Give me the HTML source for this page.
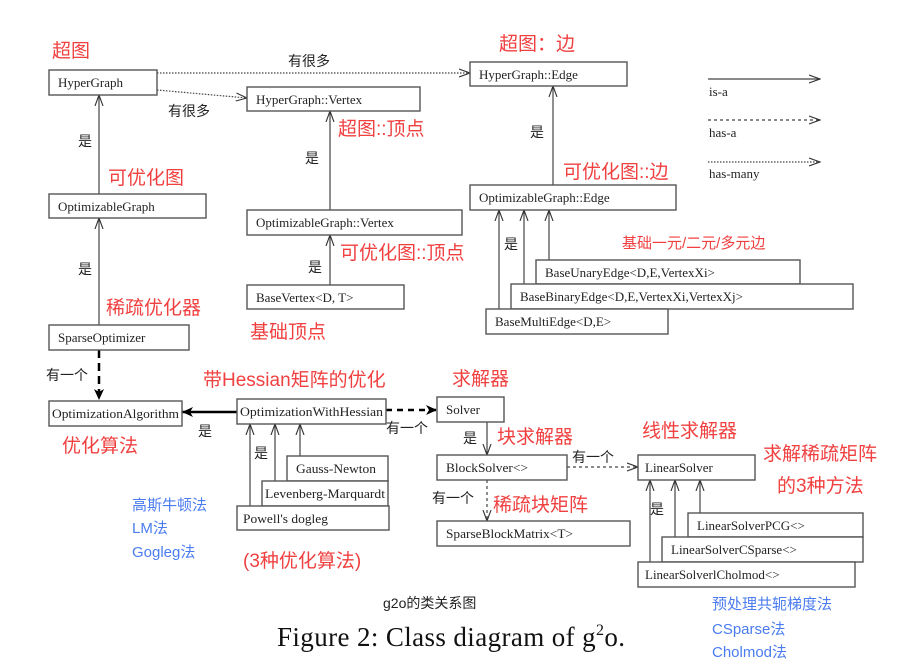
<!DOCTYPE html>
<html><head><meta charset="utf-8"><style>
html,body{margin:0;padding:0;background:#fff;width:904px;height:669px;overflow:hidden}
svg{display:block}
.b{fill:#fff;stroke:#555;stroke-width:1.4}
.t{font-family:"Liberation Serif",serif;font-size:13px;fill:#222}
.r{font-family:"Liberation Sans","Noto Sans CJK SC",sans-serif;font-size:19px;fill:#f04040}
.k{font-family:"Liberation Sans","Noto Sans CJK SC",sans-serif;font-size:14px;fill:#222}
.u{font-family:"Liberation Sans","Noto Sans CJK SC",sans-serif;font-size:15px;fill:#4a7cf0}
.l{stroke:#444;stroke-width:1.2;fill:none}
</style></head><body>
<svg width="904" height="669" viewBox="0 0 904 669" xmlns="http://www.w3.org/2000/svg">
<defs>
<marker id="o" markerWidth="12" markerHeight="10" refX="11" refY="5" orient="auto" markerUnits="userSpaceOnUse"><path d="M0,1 L11,5 L0,9" fill="none" stroke="#333" stroke-width="1.1"/></marker>
<marker id="f" markerWidth="12" markerHeight="10" refX="11" refY="5" orient="auto" markerUnits="userSpaceOnUse"><path d="M0,0 L11,5 L0,10 L3,5 Z" fill="#000"/></marker>
</defs>
<line class="l" x1="157" y1="73" x2="470" y2="73" stroke-dasharray="1.5,1.5" marker-end="url(#o)"/>
<line class="l" x1="157" y1="90" x2="247" y2="98" stroke-dasharray="1.5,1.5" marker-end="url(#o)"/>
<line class="l" x1="99" y1="194" x2="99" y2="95" marker-end="url(#o)"/>
<line class="l" x1="99" y1="325" x2="99" y2="218" marker-end="url(#o)"/>
<line class="l" x1="330" y1="210" x2="330" y2="111" marker-end="url(#o)"/>
<line class="l" x1="330" y1="285" x2="330" y2="235" marker-end="url(#o)"/>
<line class="l" x1="553" y1="185" x2="553" y2="86" marker-end="url(#o)"/>
<line class="l" x1="499" y1="309" x2="499" y2="210" marker-end="url(#o)"/>
<line class="l" x1="524" y1="284" x2="524" y2="210" marker-end="url(#o)"/>
<line class="l" x1="549" y1="260" x2="549" y2="210" marker-end="url(#o)"/>
<line x1="99" y1="350" x2="99" y2="400" stroke="#000" stroke-width="2.5" stroke-dasharray="8,5" marker-end="url(#f)"/>
<line x1="237" y1="412" x2="182" y2="412" stroke="#000" stroke-width="2.5" marker-end="url(#f)"/>
<line x1="386" y1="410" x2="437" y2="410" stroke="#000" stroke-width="2.5" stroke-dasharray="6,5" marker-end="url(#f)"/>
<line class="l" x1="487" y1="422" x2="487" y2="455" marker-end="url(#o)"/>
<line class="l" x1="487" y1="480" x2="487" y2="521" stroke-dasharray="3,3" marker-end="url(#o)"/>
<line class="l" x1="567" y1="467" x2="638" y2="467" stroke-dasharray="3,3" marker-end="url(#o)"/>
<line class="l" x1="250" y1="506" x2="250" y2="424" marker-end="url(#o)"/>
<line class="l" x1="275" y1="481" x2="275" y2="424" marker-end="url(#o)"/>
<line class="l" x1="300" y1="456" x2="300" y2="424" marker-end="url(#o)"/>
<line class="l" x1="650" y1="562" x2="650" y2="480" marker-end="url(#o)"/>
<line class="l" x1="675" y1="537" x2="675" y2="480" marker-end="url(#o)"/>
<line class="l" x1="700" y1="513" x2="700" y2="480" marker-end="url(#o)"/>
<line class="l" x1="708" y1="79" x2="820" y2="79" marker-end="url(#o)"/>
<line class="l" x1="708" y1="120" x2="820" y2="120" stroke-dasharray="3,3" marker-end="url(#o)"/>
<line class="l" x1="708" y1="162" x2="820" y2="162" stroke-dasharray="1.5,1.5" marker-end="url(#o)"/>
<text class="t" x="709" y="96">is-a</text>
<text class="t" x="709" y="137">has-a</text>
<text class="t" x="709" y="178">has-many</text>
<rect class="b" x="49" y="70" width="108" height="25"/><text class="t" x="58" y="87">HyperGraph</text>
<rect class="b" x="247" y="87" width="173" height="24"/><text class="t" x="256" y="104">HyperGraph::Vertex</text>
<rect class="b" x="470" y="62" width="157" height="24"/><text class="t" x="479" y="79">HyperGraph::Edge</text>
<rect class="b" x="49" y="194" width="157" height="24"/><text class="t" x="58" y="211">OptimizableGraph</text>
<rect class="b" x="247" y="210" width="215" height="25"/><text class="t" x="256" y="227">OptimizableGraph::Vertex</text>
<rect class="b" x="470" y="185" width="206" height="25"/><text class="t" x="479" y="202">OptimizableGraph::Edge</text>
<rect class="b" x="247" y="285" width="157" height="24"/><text class="t" x="256" y="302">BaseVertex&lt;D, T&gt;</text>
<rect class="b" x="536" y="260" width="264" height="24"/><text class="t" x="545" y="277">BaseUnaryEdge&lt;D,E,VertexXi&gt;</text>
<rect class="b" x="511" y="284" width="342" height="25"/><text class="t" x="520" y="301">BaseBinaryEdge&lt;D,E,VertexXi,VertexXj&gt;</text>
<rect class="b" x="486" y="309" width="182" height="25"/><text class="t" x="495" y="326">BaseMultiEdge&lt;D,E&gt;</text>
<rect class="b" x="49" y="325" width="140" height="25"/><text class="t" x="58" y="342">SparseOptimizer</text>
<rect class="b" x="49" y="401" width="133" height="25"/><text class="t" x="52" y="418" textLength="127" lengthAdjust="spacingAndGlyphs">OptimizationAlgorithm</text>
<rect class="b" x="237" y="399" width="149" height="25"/><text class="t" x="240" y="416" textLength="143" lengthAdjust="spacingAndGlyphs">OptimizationWithHessian</text>
<rect class="b" x="437" y="397" width="67" height="25"/><text class="t" x="446" y="414">Solver</text>
<rect class="b" x="287" y="456" width="101" height="25"/><text class="t" x="296" y="473" textLength="80" lengthAdjust="spacingAndGlyphs">Gauss-Newton</text>
<rect class="b" x="262" y="481" width="126" height="25"/><text class="t" x="265" y="498" textLength="120" lengthAdjust="spacingAndGlyphs">Levenberg-Marquardt</text>
<rect class="b" x="237" y="506" width="152" height="24"/><text class="t" x="243" y="523" textLength="85" lengthAdjust="spacingAndGlyphs">Powell's dogleg</text>
<rect class="b" x="437" y="455" width="130" height="25"/><text class="t" x="446" y="472" textLength="82" lengthAdjust="spacingAndGlyphs">BlockSolver&lt;&gt;</text>
<rect class="b" x="437" y="521" width="193" height="25"/><text class="t" x="446" y="538" textLength="127" lengthAdjust="spacingAndGlyphs">SparseBlockMatrix&lt;T&gt;</text>
<rect class="b" x="638" y="455" width="117" height="25"/><text class="t" x="645" y="472">LinearSolver</text>
<rect class="b" x="688" y="513" width="175" height="24"/><text class="t" x="697" y="530">LinearSolverPCG&lt;&gt;</text>
<rect class="b" x="662" y="537" width="201" height="25"/><text class="t" x="671" y="554">LinearSolverCSparse&lt;&gt;</text>
<rect class="b" x="638" y="562" width="217" height="25"/><text class="t" x="645" y="579">LinearSolverlCholmod&lt;&gt;</text>
<text class="r" x="52" y="57">超图</text>
<text class="r" x="499" y="50">超图：边</text>
<text class="r" x="108" y="184">可优化图</text>
<text class="r" x="338" y="135">超图::顶点</text>
<text class="r" x="563" y="178">可优化图::边</text>
<text class="r" x="622" y="248" style="font-size:15px">基础一元/二元/多元边</text>
<text class="r" x="340" y="259">可优化图::顶点</text>
<text class="r" x="106" y="314">稀疏优化器</text>
<text class="r" x="250" y="338">基础顶点</text>
<text class="r" x="203" y="386">带Hessian矩阵的优化</text>
<text class="r" x="452" y="385">求解器</text>
<text class="r" x="62" y="452">优化算法</text>
<text class="r" x="497" y="443">块求解器</text>
<text class="r" x="642" y="437">线性求解器</text>
<text class="r" x="763" y="460">求解稀疏矩阵</text>
<text class="r" x="777" y="492">的3种方法</text>
<text class="r" x="493" y="511">稀疏块矩阵</text>
<text class="r" x="243" y="567">(3种优化算法)</text>
<text class="k" x="288" y="66">有很多</text>
<text class="k" x="168" y="116">有很多</text>
<text class="k" x="78" y="146">是</text>
<text class="k" x="78" y="274">是</text>
<text class="k" x="305" y="163">是</text>
<text class="k" x="308" y="272">是</text>
<text class="k" x="530" y="137">是</text>
<text class="k" x="504" y="249">是</text>
<text class="k" x="46" y="380">有一个</text>
<text class="k" x="198" y="436">是</text>
<text class="k" x="254" y="458">是</text>
<text class="k" x="386" y="433">有一个</text>
<text class="k" x="463" y="443">是</text>
<text class="k" x="572" y="462">有一个</text>
<text class="k" x="432" y="503">有一个</text>
<text class="k" x="650" y="514">是</text>
<text class="k" x="383" y="608">g2o的类关系图</text>
<text class="u" x="132" y="510">高斯牛顿法</text>
<text class="u" x="132" y="533">LM法</text>
<text class="u" x="132" y="557">Gogleg法</text>
<text class="u" x="712" y="609">预处理共轭梯度法</text>
<text class="u" x="712" y="634">CSparse法</text>
<text class="u" x="712" y="657">Cholmod法</text>
<text x="277" y="646" textLength="348" lengthAdjust="spacing" style="font-family:'Liberation Serif',serif;font-size:27px;fill:#111">Figure 2:  Class diagram of g<tspan dy="-11" style="font-size:16px">2</tspan><tspan dy="11">o.</tspan></text>
</svg>
</body></html>
